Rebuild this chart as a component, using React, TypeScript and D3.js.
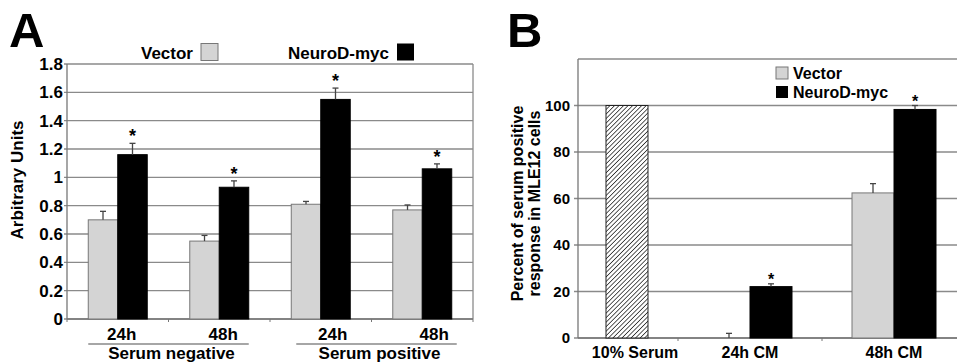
import React from 'react';
import * as d3 from 'd3';

// panel A
const aGroups = ['neg24', 'neg48', 'pos24', 'pos48'];
const aTimeLabels = ['24h', '48h', '24h', '48h'];
const aSerumLabels = ['Serum negative', 'Serum positive'];
const aVector = [0.7, 0.55, 0.81, 0.77];
const aVectorErr = [0.06, 0.04, 0.02, 0.035];
const aNeuro = [1.16, 0.93, 1.55, 1.06];
const aNeuroErr = [0.08, 0.045, 0.08, 0.035];
const aTicks = [0, 0.2, 0.4, 0.6, 0.8, 1, 1.2, 1.4, 1.6, 1.8];

// panel B
const bCategories = ['10% Serum', '24h CM', '48h CM'];
const bSerum = [100, null, null];
const bVector = [null, 0, 62.4];
const bVectorErr = [null, 2, 4];
const bNeuro = [null, 22.1, 98.3];
const bNeuroErr = [null, 1.2, 1.7];
const bSignif = [false, true, true];
const bTicks = [0, 20, 40, 60, 80, 100];

const seriesNames = ['Vector', 'NeuroD-myc'];
const fills = { 'Vector': '#d4d4d4', 'NeuroD-myc': '#000' };
const strokes = { 'Vector': '#777', 'NeuroD-myc': '#000' };

const font = "'Liberation Sans', Arial, Helvetica, sans-serif";
const grid = '#8a8a8a';

const ErrBar = ({ x, y0, y1 }) => (
  <g stroke="#444" strokeWidth={1.3}>
    <line x1={x} x2={x} y1={y0} y2={y1} />
    <line x1={x - 3} x2={x + 3} y1={y1} y2={y1} />
  </g>
);

const PanelA = () => {
  const left = 67, right = 473, top = 64, bottom = 319;
  const x0 = d3.scaleBand().domain(aGroups).range([left, right]).paddingInner(0.419).paddingOuter(0.2095);
  const x1 = d3.scaleBand().domain(seriesNames).range([0, x0.bandwidth()]);
  const y = d3.scaleLinear().domain([0, 1.8]).range([bottom, top]);
  const values = { 'Vector': aVector, 'NeuroD-myc': aNeuro };
  const errs = { 'Vector': aVectorErr, 'NeuroD-myc': aNeuroErr };
  const shift = [4, 4, 12, 12];
  const lineShift = [0, 5];

  return (
    <g fontFamily={font} fontWeight="bold">
      <text x={9} y={47} fontSize={49}>A</text>
      {aTicks.map(t => (
        <g key={t}>
          <line x1={left - 3} x2={right} y1={y(t)} y2={y(t)} stroke={grid} strokeWidth={1.4} />
          <text x={left - 4} y={y(t)} dy="0.36em" textAnchor="end" fontSize={17}>{String(t)}</text>
        </g>
      ))}
      <line x1={left} x2={left} y1={top} y2={bottom} stroke="#777" strokeWidth={1.3} />
      <line x1={right} x2={right} y1={top} y2={bottom} stroke={grid} strokeWidth={1.3} />
      <line x1={left} x2={right} y1={bottom} y2={bottom} stroke="#777" strokeWidth={1.5} />
      {d3.range(0, aGroups.length + 1).map(i => {
        const tx = x0.range()[0] + i * x0.step();
        return <line key={i} x1={tx} x2={tx} y1={bottom} y2={bottom + 3} stroke="#777" />;
      })}
      {aGroups.map((g, i) => (
        <g key={g}>
          {seriesNames.map(s => {
            const bx = x0(g) + x1(s);
            const v = values[s][i];
            const cx = bx + x1.bandwidth() / 2;
            return (
              <g key={s}>
                <rect x={bx} y={y(v)} width={x1.bandwidth()} height={bottom - y(v)} fill={fills[s]} stroke={strokes[s]} strokeWidth={1} />
                <ErrBar x={cx} y0={y(v)} y1={y(v + errs[s][i])} />
                {s === 'NeuroD-myc' && (
                  <text x={cx} y={y(v + errs[s][i]) - 1} textAnchor="middle" fontSize={18}>*</text>
                )}
              </g>
            );
          })}
          <text x={x0(g) + x0.bandwidth() / 2 + shift[i]} y={340} textAnchor="middle" fontSize={17}>{aTimeLabels[i]}</text>
        </g>
      ))}
      {aSerumLabels.map((lab, j) => {
        const g1 = aGroups[j * 2], g2 = aGroups[j * 2 + 1];
        const xa = x0(g1) + lineShift[j];
        const xb = x0(g2) + x0.bandwidth() + lineShift[j];
        return (
          <g key={lab}>
            <line x1={xa} x2={xb} y1={344} y2={344} stroke="#888" strokeWidth={1.3} />
            <text x={(xa + xb) / 2 + 3} y={359} textAnchor="middle" fontSize={17}>{lab}</text>
          </g>
        );
      })}
      {/* legend */}
      <text x={193} y={59} textAnchor="end" fontSize={17}>Vector</text>
      <rect x={201} y={43.5} width={17} height={17} fill={fills['Vector']} stroke="#777" />
      <text x={389} y={59} textAnchor="end" fontSize={17}>NeuroD-myc</text>
      <rect x={397} y={43.5} width={17} height={17} fill="#000" />
    </g>
  );
};

const PanelB = () => {
  const frameLeft = 578, bottom = 338, rightEdge = 957;
  const x0 = d3.scaleBand().domain(bCategories).range([534, 966]).paddingInner(0.4167).paddingOuter(0.2083);
  const x1 = d3.scaleBand().domain(seriesNames).range([0, x0.bandwidth()]);
  const y = d3.scaleLinear().domain([0, 120]).range([bottom, 59]);
  const top = y(120);
  const values = { 'Vector': bVector, 'NeuroD-myc': bNeuro };
  const errs = { 'Vector': bVectorErr, 'NeuroD-myc': bNeuroErr };

  return (
    <g fontFamily={font} fontWeight="bold">
      <defs>
        <pattern id="hatch" patternUnits="userSpaceOnUse" width={3.2} height={3.2} patternTransform="rotate(45)">
          <rect width={3.2} height={3.2} fill="#fff" />
          <line x1={0} y1={0} x2={0} y2={3.2} stroke="#222" strokeWidth={1.5} />
        </pattern>
      </defs>
      <text x={507} y={47} fontSize={49}>B</text>
      {bTicks.map(t => (
        <g key={t}>
          <line x1={frameLeft - 4} x2={rightEdge} y1={y(t)} y2={y(t)} stroke={grid} strokeWidth={1.4} />
          <text x={frameLeft - 8} y={y(t)} dy="0.36em" textAnchor="end" fontSize={15}>{t}</text>
        </g>
      ))}
      <line x1={frameLeft} x2={rightEdge} y1={top} y2={top} stroke={grid} strokeWidth={1.4} />
      <line x1={frameLeft} x2={frameLeft} y1={top} y2={bottom} stroke="#777" strokeWidth={1.3} />
      <line x1={frameLeft} x2={rightEdge} y1={bottom} y2={bottom} stroke="#777" strokeWidth={1.5} />
      {d3.range(1, bCategories.length).map(i => {
        const tx = x0.range()[0] + i * x0.step();
        return <line key={i} x1={tx} x2={tx} y1={bottom} y2={bottom + 3} stroke="#777" />;
      })}
      {bCategories.map((c, i) => {
        let labelX = x0(c) + x0.bandwidth() / 2;
        const marks = [];
        if (bSerum[i] != null) {
          const bx = x0(c) + x1('NeuroD-myc');
          labelX = bx + x1.bandwidth() / 2 + 8;
          marks.push(
            <rect key="serum" x={bx} y={y(bSerum[i])} width={x1.bandwidth()} height={bottom - y(bSerum[i])} fill="url(#hatch)" stroke="#222" strokeWidth={1} />
          );
        }
        seriesNames.forEach(s => {
          const v = values[s][i];
          if (v == null) return;
          const bx = x0(c) + x1(s);
          const cx = bx + x1.bandwidth() / 2;
          marks.push(
            <g key={s}>
              {v > 0 && <rect x={bx} y={y(v)} width={x1.bandwidth()} height={bottom - y(v)} fill={fills[s]} stroke={strokes[s]} strokeWidth={1} />}
              <ErrBar x={cx} y0={y(v)} y1={y(v + errs[s][i])} />
              {s === 'NeuroD-myc' && bSignif[i] && (
                <text x={cx} y={y(v + errs[s][i]) + 1} textAnchor="middle" fontSize={16}>*</text>
              )}
            </g>
          );
        });
        return (
          <g key={c}>
            {marks}
            <text x={labelX} y={358} textAnchor="middle" fontSize={16}>{c}</text>
          </g>
        );
      })}
      <text transform="translate(517,203.5) rotate(-90)" textAnchor="middle" dy="0.35em" fontSize={16}>Percent of serum positive</text>
      <text transform="translate(534,203.5) rotate(-90)" textAnchor="middle" dy="0.35em" fontSize={16}>response in MLE12 cells</text>
      {/* legend */}
      <rect x={776} y={67} width={12} height={12} fill={fills['Vector']} stroke="#777" />
      <text x={793} y={79} fontSize={16}>Vector</text>
      <rect x={776} y={86} width={12} height={12} fill="#000" />
      <text x={793} y={97.5} fontSize={16}>NeuroD-myc</text>
    </g>
  );
};

export default function App() {
  return (
    <svg width={957} height={362} style={{ position: 'absolute', left: 0, top: 0, background: '#fff' }}>
      <rect width={957} height={362} fill="#fff" />
      <PanelA />
      <text transform="translate(17,180) rotate(-90)" textAnchor="middle" dy="0.35em" fontFamily={font} fontWeight="bold" fontSize={17}>Arbitrary Units</text>
      <PanelB />
    </svg>
  );
}
